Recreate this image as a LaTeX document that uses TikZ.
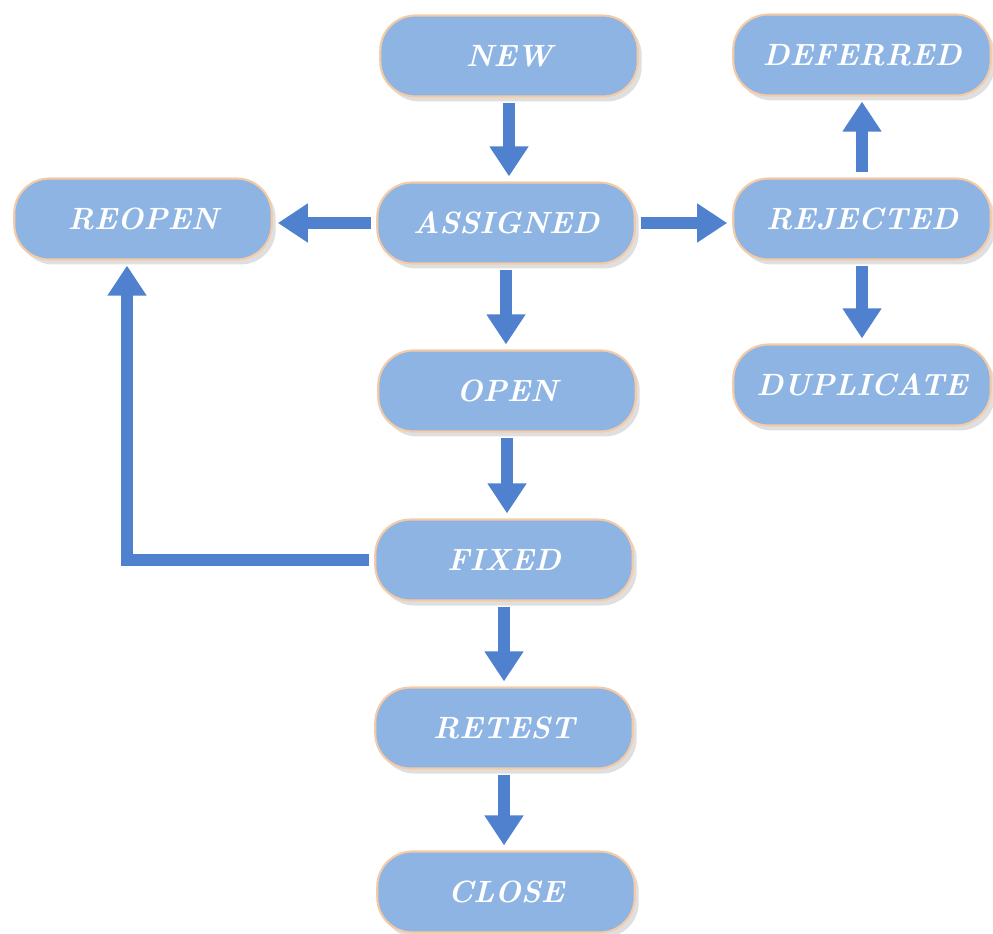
\documentclass[tikz,border=0pt]{standalone}
\usepackage{tikz}
\usetikzlibrary{arrows.meta,shadows}

\definecolor{boxfill}{HTML}{8DB4E2}
\definecolor{boxline}{HTML}{F5CBA7}
\definecolor{flowblue}{HTML}{4F81CE}

\begin{document}
\begin{tikzpicture}[x=0.02cm, y=-0.02cm,
	states/.style={draw=boxline, line width=1.2pt, fill=boxfill, rounded corners=0.7cm,
		minimum width=5.15cm, minimum height=1.62cm, text=white,
		font=\fontsize{17.5}{20}\selectfont\bfseries\itshape,
		drop shadow={shadow xshift=0.08cm, shadow yshift=-0.1cm, opacity=0.25}},
	flow/.style={draw=flowblue, line width=0.24cm, shorten <=0.1cm, shorten >=0.1cm,
		-{Triangle[width=0.74cm, length=0.6cm]}}]
	\useasboundingbox (0,0) rectangle (993,933);
	\node [states] (new) at (509,56){NEW};
	\node [states] (deferred) at (862,55){DEFERRED};
	\node [states] (reopen) at (143,219){REOPEN};
	\node [states] (assigned) at (506,223){ASSIGNED};
	\node [states] (rejected) at (862,219){REJECTED};
	\node [states] (open) at (507,391){OPEN};
	\node [states] (duplicate) at (862,385){DUPLICATE};
	\node [states] (fixed) at (504,560){FIXED};
	\node [states] (retest) at (504,728){RETEST};
	\node [states] (close) at (506,892){CLOSE};
\foreach \from/\to in {new/assigned, assigned/open, open/fixed, fixed/retest, retest/close, rejected/duplicate}
\draw [flow] (\from.south)--(\from.south |- \to.north);
\draw [flow] (assigned.west)--(assigned.west -| reopen.east);
\draw [flow] (assigned.east)--(assigned.east -| rejected.west);
\draw [flow] (rejected.north)--(deferred.south);
\draw [flow] (fixed.west) -| ([xshift=-0.32cm]reopen.south);
\end{tikzpicture}
\end{document}
